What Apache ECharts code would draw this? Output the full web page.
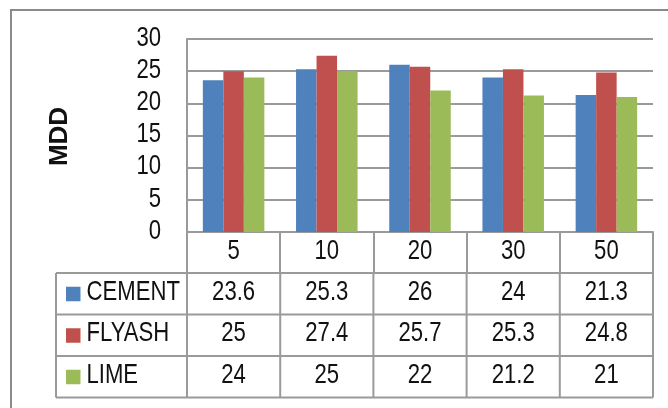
<!DOCTYPE html>
<html>
<head>
<meta charset="utf-8">
<script src="https://cdn.jsdelivr.net/npm/echarts@6/dist/echarts.min.js"></script>
<style>
  html, body { margin: 0; padding: 0; background: #fff; }
  #chart { width: 668px; height: 408px; }
</style>
</head>
<body>
<div id="chart"></div>
<script>
// Additive content (%) on the category axis
const categories = ['5', '10', '20', '30', '50'];
// MDD per additive
const seriesNames = ['CEMENT', 'FLYASH', 'LIME'];
const cement = [23.6, 25.3, 26, 24, 21.3];
const flyash = [25, 27.4, 25.7, 25.3, 24.8];
const lime = [24, 25, 22, 21.2, 21];
const seriesColors = ['#4F81BD', '#C0504D', '#9BBB59'];
const yTicks = [0, 5, 10, 15, 20, 25, 30];
const axisTitle = 'MDD';

// condensed look: regular sans squeezed horizontally
const FONT = "'Liberation Sans', Arial, sans-serif";
const SQUEEZE = 0.79;
const SIZE = 28;
const LINE = '#9a9a9a';
const TEXT = '#111';

// plot box
const G = { left: 187, top: 39, width: 466, height: 193 };
const HEAD_H = 41;
const ROW_H = 41.5;
const LEGEND_COL_X = 56;

const values = [cement, flyash, lime];
const chart = echarts.init(document.getElementById('chart'), null, { renderer: 'canvas' });

chart.setOption({
  animation: false,
  backgroundColor: '#fff',
  grid: { left: G.left, top: G.top, width: G.width, height: G.height, containLabel: false },
  xAxis: {
    type: 'category',
    data: categories,
    axisLine: { show: true, lineStyle: { color: LINE, width: 2 } },
    axisTick: { show: true, length: HEAD_H, lineStyle: { color: LINE, width: 2 } },
    axisLabel: { show: false },
    splitLine: { show: false }
  },
  yAxis: {
    type: 'value',
    min: yTicks[0], max: yTicks[yTicks.length - 1], interval: yTicks[1] - yTicks[0],
    axisLine: { show: true, lineStyle: { color: LINE, width: 2 } },
    axisTick: { show: false },
    axisLabel: { show: false },
    splitLine: { show: true, lineStyle: { color: LINE, width: 2 } }
  },
  series: seriesNames.map((name, i) => ({
    name: name,
    type: 'bar',
    data: values[i],
    itemStyle: { color: seriesColors[i] },
    barGap: '0%',
    barCategoryGap: '34%'
  }))
});

function label(text, x, y, align) {
  return {
    type: 'text', x: x, y: y, scaleX: SQUEEZE, silent: true,
    style: { text: text, font: SIZE + 'px ' + FONT, fill: TEXT,
      textAlign: align, textVerticalAlign: 'middle' }
  };
}

function hline(x1, x2, y) {
  return { type: 'line', silent: true, shape: { x1: x1, y1: y, x2: x2, y2: y },
    style: { stroke: LINE, lineWidth: 2 } };
}
function vline(x, y1, y2) {
  return { type: 'line', silent: true, shape: { x1: x, y1: y1, x2: x, y2: y2 },
    style: { stroke: LINE, lineWidth: 2 } };
}

function buildOverlay() {
  const out = [];
  const xs = categories.map(c => chart.convertToPixel({ xAxisIndex: 0 }, c));
  const band = xs.length > 1 ? xs[1] - xs[0] : G.width;
  const left = xs[0] - band / 2;
  const right = xs[xs.length - 1] + band / 2;
  const axisY = chart.convertToPixel({ yAxisIndex: 0 }, yTicks[0]);

  // value axis labels
  yTicks.forEach(t => {
    out.push(label(String(t), left - 26, chart.convertToPixel({ yAxisIndex: 0 }, t) - 1, 'right'));
  });

  // value axis title
  out.push({
    type: 'text', x: 60, y: (G.top + axisY) / 2 + 1, rotation: Math.PI / 2, silent: true,
    style: { text: axisTitle, font: 'bold 26px ' + FONT, fill: TEXT,
      textAlign: 'center', textVerticalAlign: 'middle' }
  });

  // header row: category names
  xs.forEach((x, i) => out.push(label(categories[i], x, axisY + HEAD_H / 2 - 1, 'center')));

  // data table
  const top = axisY + HEAD_H;
  const bottom = top + ROW_H * seriesNames.length;
  for (let r = 0; r <= seriesNames.length; r++) out.push(hline(LEGEND_COL_X, right, top + r * ROW_H));
  out.push(vline(LEGEND_COL_X, top, bottom));
  for (let c = 0; c <= categories.length; c++) out.push(vline(left + c * band, top, bottom));

  seriesNames.forEach((name, r) => {
    const cy = top + r * ROW_H + ROW_H / 2;
    out.push({ type: 'rect', silent: true, shape: { x: 66, y: cy - 7, width: 14.5, height: 14.5 },
      style: { fill: seriesColors[r] } });
    out.push(label(name, 86.5, cy - 1.5, 'left'));
    values[r].forEach((v, c) => out.push(label(String(v), xs[c], cy - 1.5, 'center')));
  });

  // chart frame
  out.push({ type: 'rect', silent: true, shape: { x: 11, y: 10, width: 700, height: 440 },
    style: { fill: 'none', stroke: '#8a8a8a', lineWidth: 2 } });
  return out;
}

chart.setOption({ graphic: buildOverlay() });
</script>
</body>
</html>
